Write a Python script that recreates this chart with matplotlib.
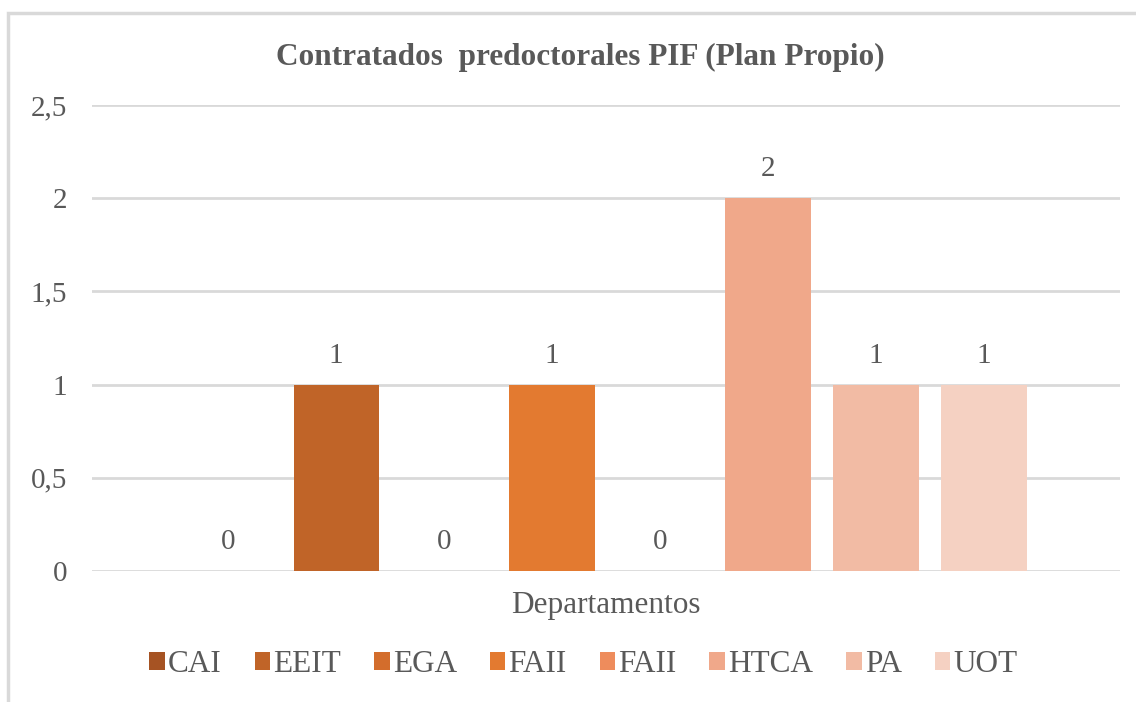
import matplotlib.pyplot as plt
from matplotlib.patches import Rectangle

# data
series = ["CAI", "EEIT", "EGA", "FAII", "FAII", "HTCA", "PA", "UOT"]
values = [0, 1, 0, 1, 0, 2, 1, 1]
category = "Departamentos"
title = "Contratados  predoctorales PIF (Plan Propio)"
yticks = [0, 0.5, 1, 1.5, 2, 2.5]
ytick_labels = ["0", "0,5", "1", "1,5", "2", "2,5"]
colors = ["#A65323", "#C06428", "#D36D2C", "#E37A30",
          "#EE8C5C", "#F0A88A", "#F2BBA4", "#F5D1C2"]

TXT = "#595959"
plt.rcParams["font.family"] = ["Liberation Serif", "DejaVu Serif"]

fig = plt.figure(figsize=(11.36, 7.02), dpi=100)
ax = fig.add_axes([0.081, 0.1866, 0.905, 0.6638])

slot = 0.105
width = 0.083
n = len(series)
for i, (name, v, c) in enumerate(zip(series, values, colors)):
    x = (i - (n - 1) / 2) * slot
    ax.bar(x, v, width=width, color=c, label=name, zorder=3)
    ax.text(x, v + 0.085, str(v), ha="center", va="bottom",
            fontsize=21, color=TXT, zorder=4)

ax.set_xlim(-0.5, 0.5)
ax.set_ylim(0, 2.5)
ax.set_yticks(yticks, ytick_labels)
ax.set_xticks([])
ax.tick_params(axis="y", length=0, pad=18, labelsize=21, labelcolor=TXT)
ax.grid(axis="y", color="#D9D9D9", linewidth=2, zorder=0)
for s in ax.spines.values():
    s.set_visible(False)

fig.text(0.533, 0.137, category, ha="center", va="center",
         fontsize=22.5, color=TXT)
fig.text(0.511, 0.918, title, ha="center", va="center",
         fontsize=22.5, fontweight="bold", color=TXT)

ax.legend(loc="center", bbox_to_anchor=(0.478, -0.2), ncol=n,
          frameon=False, fontsize=22.5, labelcolor=TXT,
          handlelength=0.5, handleheight=0.5, handletextpad=0.1,
          columnspacing=1.05)

# light chart-area frame (top and left edges visible)
fig.patches.append(Rectangle((0.007, -0.01), 1.1, 0.992, transform=fig.transFigure,
                             fill=False, edgecolor="#D9D9D9", linewidth=2.5))

fig.savefig("out.png", dpi=100)
